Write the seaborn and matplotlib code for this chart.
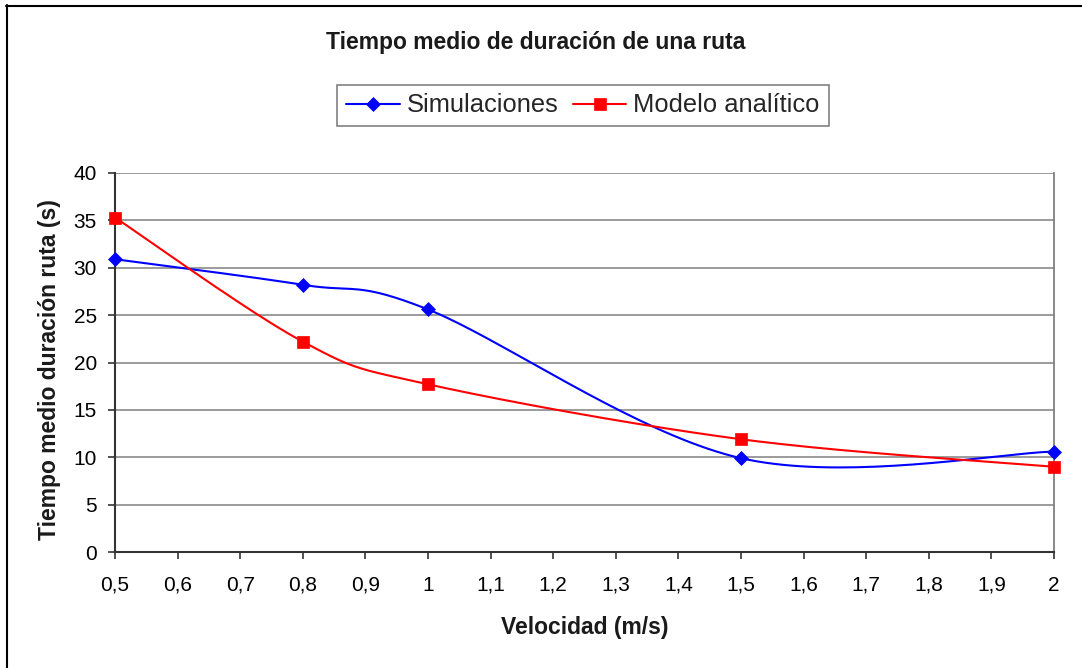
import numpy as np
import seaborn as sns
import matplotlib.pyplot as plt
from matplotlib.lines import Line2D
from matplotlib.ticker import FuncFormatter

# datos
velocidad = [0.5, 0.8, 1.0, 1.5, 2.0]
simulaciones = [30.9, 28.2, 25.6, 9.9, 10.6]
modelo = [35.3, 22.2, 17.7, 11.9, 9.0]

titulo = 'Tiempo medio de duración de una ruta'
xlabel = 'Velocidad (m/s)'
ylabel = 'Tiempo medio duración ruta (s)'
leyenda = ['Simulaciones', 'Modelo analítico']


def suavizar(x, y, n=40):
    # curva suavizada tipo Excel (Bezier por Catmull-Rom) solo para dibujar la linea
    p = np.column_stack([x, y]).astype(float)
    p = np.vstack([p[0], p, p[-1]])
    xs, ys = [], []
    t = np.linspace(0, 1, n)[:, None]
    for i in range(1, len(p) - 2):
        p0, p1, p2, p3 = p[i - 1], p[i], p[i + 1], p[i + 2]
        b1 = p1 + (p2 - p0) / 6
        b2 = p2 - (p3 - p1) / 6
        c = (1 - t) ** 3 * p1 + 3 * (1 - t) ** 2 * t * b1 + 3 * (1 - t) * t ** 2 * b2 + t ** 3 * p2
        xs.extend(c[:, 0])
        ys.extend(c[:, 1])
    return np.array(xs), np.array(ys)


sns.set_theme(style='white')
plt.rcParams['font.family'] = ['Liberation Sans', 'DejaVu Sans']

fig = plt.figure(figsize=(10.82, 6.68), dpi=100)
ax = fig.add_axes([115 / 1082, 116 / 668, 939 / 1082, 379 / 668])

series = [(simulaciones, '#0000FF', 'D', 7.2), (modelo, '#FF0000', 's', 8.2)]
for vals, color, marker, ms in series:
    sx, sy = suavizar(velocidad, vals)
    sns.lineplot(x=sx, y=sy, ax=ax, color=color, lw=1.5, sort=False, estimator=None, zorder=3)
    ax.plot(velocidad, vals, ls='none', marker=marker, ms=ms, color=color,
            mew=0.5, mec=color, clip_on=False, zorder=4)

ax.set_xlim(0.5, 2)
ax.set_ylim(0, 40)
ax.set_xticks(np.arange(0.5, 2.01, 0.1))
ax.set_yticks(np.arange(0, 41, 5))
fmt = FuncFormatter(lambda v, pos: ('%g' % round(v, 1)).replace('.', ','))
ax.xaxis.set_major_formatter(fmt)
ax.yaxis.set_major_formatter(fmt)
ax.tick_params(axis='both', labelsize=15, colors='#333333', labelcolor='black',
               direction='out', length=5, width=1.2, left=True, bottom=True)
ax.tick_params(axis='x', pad=12)
ax.tick_params(axis='y', pad=8)
ax.grid(axis='y', color='#808080', lw=1.1)
ax.set_axisbelow(True)
for s in ['left', 'bottom']:
    ax.spines[s].set_color('#333333')
    ax.spines[s].set_linewidth(1.5)
ax.spines['right'].set_color('#808080')
ax.spines['right'].set_linewidth(1.3)
ax.spines['top'].set_visible(False)
ax.set_xlabel('')
ax.set_ylabel('')

fig.text(536 / 1082, 1 - 49 / 668, titulo, ha='center', va='baseline',
         fontsize=16.5, fontweight='bold', color='#1a1a1a')
fig.text(584.5 / 1082, 1 - 634 / 668, xlabel, ha='center', va='baseline',
         fontsize=16.5, fontweight='bold', color='#1a1a1a')
fig.text(50 / 1082, 1 - 370 / 668, ylabel, ha='center', va='center', rotation=90,
         fontsize=16.5, fontweight='bold', color='#1a1a1a')

handles = [Line2D([], [], color=c, lw=1.5, marker=m, ms=ms, mew=0.5, mec=c)
           for _, c, m, ms in series]
leg = fig.legend(handles, leyenda, loc='center', bbox_to_anchor=(583 / 1082, 1 - 105.5 / 668),
                 ncol=2, fontsize=18.4, frameon=True, fancybox=False, handlelength=2.1,
                 handletextpad=0.27, columnspacing=0.55, borderpad=0.35,
                 borderaxespad=0)
leg.get_frame().set_edgecolor('#555555')
leg.get_frame().set_linewidth(1.1)

# borde del area del grafico (solo visible arriba e izquierda)
fig.add_artist(Line2D([6.5 / 1082, 6.5 / 1082], [0, 1 - 5 / 668], color='black', lw=1.5,
                      transform=fig.transFigure))
fig.add_artist(Line2D([5.5 / 1082, 1], [1 - 6 / 668, 1 - 6 / 668], color='black', lw=1.5,
                      transform=fig.transFigure))

fig.savefig('out.png', dpi=100)
